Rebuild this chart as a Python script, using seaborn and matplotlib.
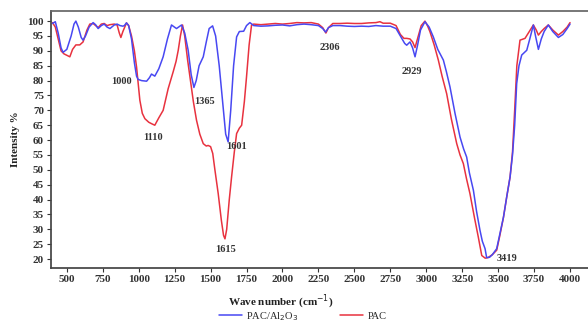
import numpy as np
import pandas as pd
import matplotlib
matplotlib.use("Agg")
import matplotlib.pyplot as plt
import seaborn as sns

# PAC/Al2O3 (blue)
wn_al = [400, 420, 440, 460, 474, 500, 530, 550, 563, 580, 600, 613, 630, 655, 683, 700, 718, 740, 760, 780,
         800, 830, 850, 870, 890, 900, 915, 930, 950, 970, 985, 996, 1020, 1055, 1075, 1089, 1112, 1140, 1170, 1200,
         1228, 1263, 1298, 1320, 1344, 1365, 1384, 1400, 1420, 1449, 1470, 1490, 1514, 1535, 1560, 1585, 1605, 1622, 1640, 1660,
         1681, 1700, 1730, 1750, 1773, 1800, 1850, 1900, 1950, 2000, 2050, 2100, 2150, 2200, 2250, 2280, 2300, 2320, 2350, 2400,
         2450, 2500, 2550, 2600, 2650, 2700, 2750, 2790, 2820, 2850, 2864, 2887, 2905, 2922, 2940, 2960, 2991, 3020, 3049, 3080,
         3119, 3140, 3165, 3200, 3235, 3260, 3281, 3300, 3328, 3350, 3374, 3390, 3409, 3420, 3440, 3460, 3490, 3510, 3537, 3560,
         3583, 3600, 3615, 3629, 3645, 3664, 3699, 3720, 3745, 3760, 3780, 3800, 3820, 3849, 3880, 3919, 3950, 3980, 4000]
it_al = [99.2, 99.8, 96, 91, 89.5, 90.5, 95, 99, 100, 98, 94.5, 93.6, 95, 98, 99.5, 98.8, 97.5, 98.5, 99, 98,
         97.5, 98.7, 99, 98.5, 98.3, 98.5, 99.4, 98.5, 94, 86, 81.5, 80.4, 80, 79.8, 81, 82.2, 81.5, 84, 88, 94,
         98.7, 97.5, 98.7, 96, 90.2, 82, 77.7, 80, 85, 88, 93, 97.5, 98.4, 95, 85, 72, 62, 59.4, 70, 85,
         94.7, 96.5, 96.6, 98.5, 99.5, 98.5, 98.3, 98.4, 98.6, 98.7, 98.4, 98.8, 99, 98.8, 98.5, 97.5, 96.3, 97.8, 98.5, 98.5,
         98.3, 98.2, 98.3, 98.2, 98.5, 98.3, 98.3, 97.5, 95, 92.5, 91.9, 93, 91, 88, 92, 97, 99.8, 98, 94.7, 90.5,
         86.9, 83, 77.9, 69, 61, 57, 54.3, 49, 43.1, 36, 29.6, 26, 23.5, 20.5, 20.6, 21.5, 23.5, 28, 34.1, 41,
         47.6, 55, 65, 79, 85, 88.6, 90.2, 94, 98.7, 95, 90.5, 94, 96.5, 98.7, 96.5, 94.5, 95.5, 97.5, 99]

# PAC (red)
wn_pac = [400, 420, 440, 460, 480, 500, 521, 540, 563, 590, 613, 640, 660, 683, 700, 718, 740, 760, 780, 800,
          830, 850, 865, 876, 890, 915, 930, 950, 970, 985, 1008, 1025, 1043, 1070, 1090, 1112, 1140, 1170, 1205, 1240,
          1260, 1275, 1290, 1305, 1320, 1340, 1356, 1380, 1402, 1425, 1449, 1470, 1483, 1500, 1515, 1530, 1553, 1575, 1590, 1600,
          1612, 1630, 1646, 1665, 1681, 1700, 1716, 1735, 1750, 1768, 1785, 1800, 1850, 1900, 1950, 2000, 2050, 2100, 2150, 2200,
          2250, 2280, 2302, 2320, 2350, 2400, 2450, 2500, 2550, 2600, 2650, 2678, 2700, 2750, 2790, 2820, 2845, 2864, 2887, 2905,
          2922, 2945, 2965, 2991, 3010, 3026, 3055, 3084, 3110, 3142, 3175, 3212, 3235, 3258, 3280, 3304, 3335, 3362, 3386, 3410,
          3430, 3460, 3490, 3510, 3537, 3560, 3583, 3600, 3615, 3630, 3652, 3687, 3710, 3745, 3765, 3780, 3800, 3820, 3849, 3880,
          3919, 3950, 3980, 4000]
it_pac = [99.5, 98, 94, 90, 89, 88.5, 88, 90.5, 92, 92, 93, 97, 99, 99.2, 98.5, 97.8, 99, 99.2, 98.5, 98.8,
          99, 98.7, 96, 94.5, 96.5, 99.4, 98.5, 95, 90, 84.6, 73.4, 69, 67.2, 66, 65.5, 65, 67.5, 70, 77.3, 83,
          86.5, 90.2, 95, 98.7, 95, 87, 81.3, 73, 66.7, 62, 58.8, 58, 58.2, 57.8, 55.5, 50, 42, 33, 28, 26.8,
          30, 40, 47.6, 56, 62.2, 64, 65, 73, 81.3, 92, 98.7, 99, 98.8, 99, 99.2, 99, 99.2, 99.5, 99.4, 99.5,
          99, 97.8, 96, 97.8, 99.2, 99.2, 99.3, 99.2, 99.2, 99.4, 99.5, 99.8, 99.3, 99.3, 98.5, 95.5, 94.2, 94.2, 94, 93,
          91.1, 95, 98.5, 100, 98.3, 96.4, 92, 86.9, 81.5, 75.6, 67, 58.8, 55, 52.1, 47, 42, 34, 27.4, 21.2, 20.3,
          20.5, 21.5, 23, 27.5, 34, 41, 47.6, 56, 70, 85, 93.6, 94.2, 96, 98.7, 97, 95.3, 96.5, 97.5, 98.7, 97,
          95.3, 96.5, 98, 99.5]

peak_labels = ["1000", "1110", "1365", "1601", "1615", "2306", "2929", "3419"]
peak_x = [883, 1098, 1460, 1683, 1606, 2330, 2901, 3562]
peak_y = [79.8, 60.9, 73.1, 57.9, 23.2, 91.2, 83.2, 20.2]

x_ticks = [500, 750, 1000, 1250, 1500, 1750, 2000, 2250, 2500, 2750, 3000, 3250, 3500, 3750, 4000]
y_ticks = list(range(20, 101, 5))

sns.set_theme(style="ticks")
plt.rcParams['font.family'] = ['Liberation Serif', 'DejaVu Serif']

df_al = pd.DataFrame({"wn": wn_al, "it": it_al})
df_pac = pd.DataFrame({"wn": wn_pac, "it": it_pac})

fig = plt.figure(figsize=(5.88, 3.23), dpi=100)
ax = fig.add_axes([51/588, 1-268/323, 1-51/588, (268-11)/323])

sns.lineplot(data=df_pac, x="wn", y="it", ax=ax, color="#e8323f", lw=1.1, label="PAC", sort=False)
sns.lineplot(data=df_al, x="wn", y="it", ax=ax, color="#4848f2", lw=1.1, label="PAC/Al$_2$O$_3$", sort=False)

for t, xx, yy in zip(peak_labels, peak_x, peak_y):
    ax.text(xx, yy, t, ha="center", va="center", fontsize=7.5, fontweight="bold", color="#333333")

ax.set_xlim(390, 4125)
ax.set_ylim(17, 103.4)
ax.set_xticks(x_ticks)
ax.set_yticks(y_ticks)
ax.tick_params(axis="both", labelsize=8, length=3, width=0.8, colors="#333333", pad=2)
for lab in ax.get_xticklabels() + ax.get_yticklabels():
    lab.set_fontweight("bold")
ax.spines["right"].set_visible(False)
ax.spines["top"].set_color("#666666")
ax.spines["left"].set_color("#444444")
ax.spines["bottom"].set_color("#444444")

ax.set_xlabel("Wave number (cm$^{-1}$)", fontsize=8, fontweight="bold", color="#222222")
ax.xaxis.set_label_coords(0.428, -0.095)
ax.set_ylabel("Intensity %", fontsize=8, fontweight="bold", color="#222222")
ax.yaxis.set_label_coords(-0.058, 0.5)

handles, labels = ax.get_legend_handles_labels()
ax.legend_.remove()
fig.legend([handles[1], handles[0]], [labels[1], labels[0]], loc="center", bbox_to_anchor=(0.515, 0.02),
           ncol=2, frameon=False, fontsize=7.5, handlelength=2.2, columnspacing=4, borderaxespad=0, handletextpad=0.4)

fig.savefig("out.png", dpi=100)
